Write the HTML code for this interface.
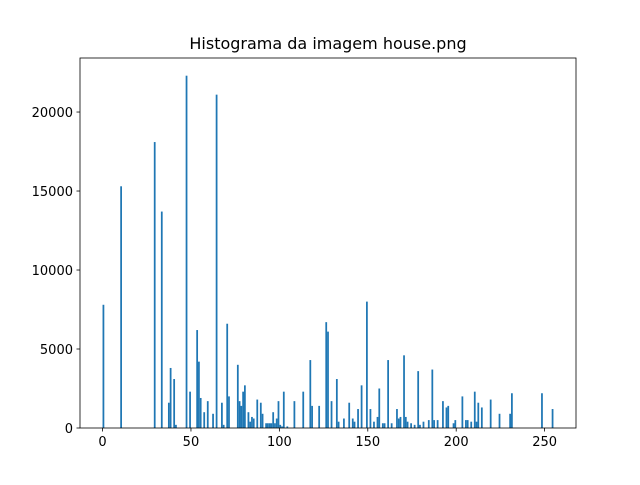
<!DOCTYPE html>
<html><head><meta charset="utf-8"><style>
body{margin:0;background:#fff;}
text{font-family:"DejaVu Sans","Liberation Sans",sans-serif;}
</style></head><body>
<svg id="chart" width="640" height="480" xmlns="http://www.w3.org/2000/svg">
<rect width="640" height="480" fill="#fff"/>
<text x="328" y="49" font-size="16" text-anchor="middle">Histograma da imagem house.png</text>
<g id="bars"></g>
<g id="axes"></g>
</svg>
<script>
const binValues = [
0,10,29,33,37,38,40,41,47,49,
53,54,55,57,59,62,64,67,68,70,
71,76,77,78,79,80,82,83,84,85,
87,89,90,92,93,94,95,96,97,98,
99,100,101,102,104,108,113,117,118,122,
126,127,129,132,133,136,139,141,142,144,
146,149,151,153,155,156,158,159,161,163,
166,167,168,170,171,172,174,176,178,179,
181,184,186,187,189,192,194,195,198,199,
203,205,206,208,210,211,212,214,219,224,
230,231,248,254];
const binCounts = [
7800,15300,18100,13700,1600,3800,3100,200,22300,2300,
6200,4200,1900,1000,1700,900,21100,1600,200,6600,
2000,4000,1700,1400,2300,2700,1000,400,700,600,
1800,1600,900,300,300,300,300,1000,300,600,
1700,200,100,2300,100,1700,2300,4300,1400,1400,
6700,6100,1700,3100,400,600,1600,600,400,1200,
2700,8000,1200,400,700,2500,300,300,4300,300,
1200,600,700,4600,700,400,300,200,3600,200,
400,500,3700,500,500,1700,1300,1400,300,500,
2000,500,500,400,2300,400,1600,1300,1800,900,
900,2200,2200,1200];
const xTicks = [0,50,100,150,200,250];
const yTicks = [0,5000,10000,15000,20000];
const L=80,R=576,T=58,B=428;
const xMin=-12.75,xMax=267.75,yMax=23420;
const X=v=>L+(v-xMin)/(xMax-xMin)*(R-L);
const Y=v=>B-v/yMax*(B-T);
const NS="http://www.w3.org/2000/svg";
const bars=document.getElementById('bars');
const w=255/256;
binValues.forEach((v,i)=>{
  const c=binCounts[i]||0;
  const r=document.createElementNS(NS,'rect');
  r.setAttribute('x',X(v));
  r.setAttribute('width',X(v+w)-X(v));
  r.setAttribute('y',Y(c));
  r.setAttribute('height',B-Y(c));
  r.setAttribute('fill','#1f77b4');
  
  
  bars.appendChild(r);
});
const ax=document.getElementById('axes');
const frame=document.createElementNS(NS,'rect');
frame.setAttribute('x',L);frame.setAttribute('y',T);frame.setAttribute('width',R-L);frame.setAttribute('height',B-T);
frame.setAttribute('fill','none');frame.setAttribute('stroke','#000');frame.setAttribute('stroke-width','0.8');


ax.appendChild(frame);
xTicks.forEach(t=>{
  const x=X(t);
  const l=document.createElementNS(NS,'line');
  l.setAttribute('x1',x);l.setAttribute('x2',x);l.setAttribute('y1',B);l.setAttribute('y2',B+3.5);l.setAttribute('stroke','#000');l.setAttribute('stroke-width','0.8');
  
  
  ax.appendChild(l);
  const tx=document.createElementNS(NS,'text');
  tx.setAttribute('x',x);tx.setAttribute('y',B+18);tx.setAttribute('font-size','13');tx.setAttribute('text-anchor','middle');
  tx.textContent=t;
  
  
  ax.appendChild(tx);
});
yTicks.forEach(t=>{
  const y=Y(t);
  const l=document.createElementNS(NS,'line');
  l.setAttribute('x1',L-3.5);l.setAttribute('x2',L);l.setAttribute('y1',y);l.setAttribute('y2',y);l.setAttribute('stroke','#000');l.setAttribute('stroke-width','0.8');
  
  
  ax.appendChild(l);
  const tx=document.createElementNS(NS,'text');
  tx.setAttribute('x',L-7);tx.setAttribute('y',y+5);tx.setAttribute('font-size','13');tx.setAttribute('text-anchor','end');
  tx.textContent=t;
  
  
  ax.appendChild(tx);
});
</script>
</body></html>
